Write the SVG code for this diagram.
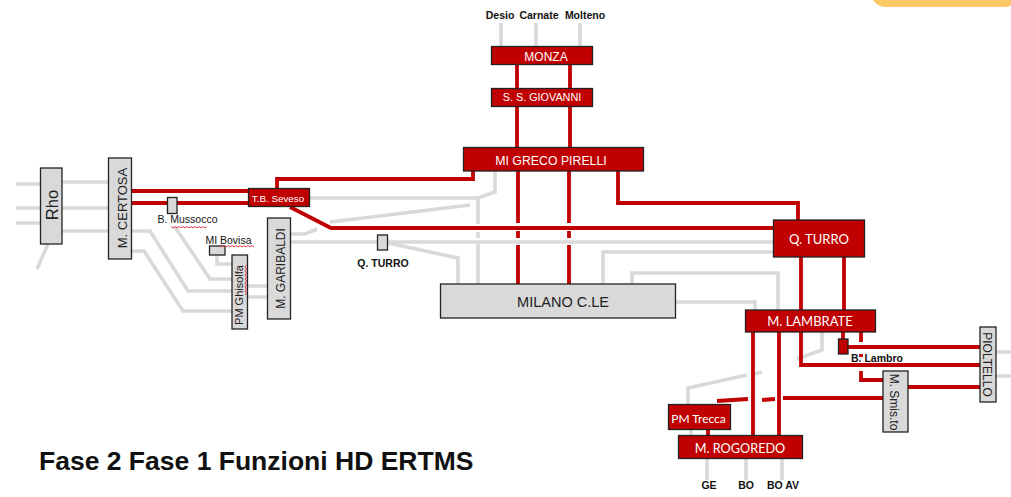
<svg xmlns="http://www.w3.org/2000/svg" width="1011" height="497" viewBox="0 0 1011 497">
<style>
text{font-family:"Liberation Sans",Arial,sans-serif;text-anchor:middle}
.g{fill:#d9d9d9;stroke:#222;stroke-width:1.3}
.r{fill:#c00000;stroke:#222;stroke-width:1.3}
.w{fill:#fff}
.c{fill:#fff;font-family:"Lato","Liberation Sans",sans-serif}
.k{fill:#222}
.b{fill:#111;font-weight:bold;font-size:10.5px}
.l{fill:#111;font-size:10.5px}
#connectors path{fill:none;stroke-linejoin:miter}
#grey path{stroke:#d9d9d9;stroke-width:3.6}
#red path{stroke:#c00000;stroke-width:3.8}
.sq{fill:none;stroke:#e0404a;stroke-width:1}
</style>
<path d="M873 0Q878 7 885 7H1005Q1011 7 1011 4V0Z" fill="#fdc966"/>
<g id="connectors">
<g id="grey">
<path d="M16 184H40M62 182H108M16 208H108M16 223H40M62 231H108M132 231H150L188 291H232M132 251H144L183 311H232M175 227L210 279H232M248 286H267M248 297H267M217 255V264H232M48 244L37 269"/>
<path d="M291 234H305L317 229M330 222L470 205M291 242H773M603 284V252H773M632 284V273H778V310M676 302H755V310M310 198H478L495 192V171M478 198V224M478 232V238M478 244V284M388 243L458 258V284"/>
<path d="M822 332V350L797 359M762 372L751 375M747 375L688 388V404M691 429V435M996 352H1011M996 376H1011M707 458V480M746 458V480M782 458V480M501 23V46M536 23V46M580 23V46"/>
</g>
<g id="red">
<path d="M132 191H248M132 203H248M277 188V179H473V171M290 207L331 228H773"/>
<path d="M517 64V88M570 64V88M517 107V147M570 107V147M518 171V223M518 231V238M518 245V284M569 171V223M569 231V238M569 245V284M618 171V203H798V220M801 257V310M844 257V310"/>
<path d="M843 332V340M801 332V365H980M848 347H980M861 332V342M861 354V357M861 371V380H883M908 387H980M883 398H783M775 399L762 400M748 399L717 401M753 332V435M779 332V435M708 429V435"/>
</g>
</g>
<g id="monza"><rect class="r" x="491.500" y="46.500" width="101" height="18"/><text class="w" x="546" y="61" font-size="12">MONZA</text></g>
<g id="giovanni"><rect class="r" x="491.500" y="88.500" width="101" height="18"/><text class="w" x="542" y="101" font-size="10.800">S. S. GIOVANNI</text></g>
<g id="greco"><rect class="r" x="463.500" y="147.500" width="180" height="23.500"/><text class="w" x="551" y="165" font-size="12.300">MI GRECO PIRELLI</text></g>
<g id="seveso"><rect class="r" x="248.500" y="188.500" width="61" height="18"/><text class="w" x="278" y="201.500" font-size="9.800">T.B. Seveso</text></g>
<g id="rho"><rect class="g" x="40.500" y="168" width="21.500" height="76"/><text class="k" transform="translate(58 205) rotate(-90)" font-size="16.500">Rho</text></g>
<g id="certosa"><rect class="g" x="108.500" y="158" width="23" height="101"/><text class="k" transform="translate(127 208) rotate(-90)" font-size="13">M. CERTOSA</text></g>
<g id="mussocco"><rect class="g" x="167.500" y="197.500" width="9.500" height="16"/><text class="l" x="187.500" y="223">B. Mussocco</text><path class="sq" d="M171 226.500l2 1.500 2-1.500 2 1.500 2-1.500 2 1.500 2-1.500 2 1.500 2-1.500 2 1.500 2-1.500 2 1.500 2-1.500 2 1.500 2-1.500 2 1.500 2-1.500 2 1.500 2-1.500"/></g>
<g id="bovisa"><rect class="g" x="209.500" y="246" width="15.500" height="9"/><text class="l" x="228.500" y="243.500">MI Bovisa</text><path class="sq" d="M220 245.500l2 1.500 2-1.500 2 1.500 2-1.500 2 1.500 2-1.500 2 1.500 2-1.500 2 1.500 2-1.500 2 1.500 2-1.500 2 1.500 2-1.500 2 1.500 2-1.500 2 1.500"/></g>
<g id="ghisolfa"><rect class="g" x="232" y="255" width="15.500" height="74"/><text class="k" transform="translate(242.500 295) rotate(-90)" font-size="11">PM Ghisolfa</text><path class="sq" d="M246.500 265l-1.500 2 1.500 2-1.500 2 1.500 2-1.500 2 1.500 2-1.500 2 1.500 2-1.500 2 1.500 2-1.500 2 1.500 2-1.500 2 1.500 2-1.500 2"/></g>
<g id="garibaldi"><rect class="g" x="267.500" y="218" width="23" height="101"/><text class="k" transform="translate(285 268.500) rotate(-90)" font-size="12">M. GARIBALDI</text></g>
<g id="turro-small"><rect class="g" x="377.500" y="235" width="10" height="15"/><text class="b" x="383" y="267">Q. TURRO</text></g>
<g id="milano"><rect class="g" x="440.500" y="284" width="235" height="34"/><text class="k" x="563" y="307" font-size="14.500">MILANO C.LE</text></g>
<g id="turro"><rect class="r" x="773.500" y="220" width="91" height="37"/><text class="c" x="819" y="244" font-size="13">Q. TURRO</text></g>
<g id="lambrate"><rect class="r" x="745.500" y="310" width="130" height="22"/><text class="c" x="810" y="326" font-size="13">M. LAMBRATE</text></g>
<g id="blambro"><rect class="r" x="838.500" y="339" width="9.500" height="15"/><text class="b" x="877" y="362">B. Lambro</text></g>
<g id="pioltello"><rect class="g" x="980" y="327" width="16" height="75"/><text class="k" transform="translate(983 364.500) rotate(90)" font-size="12">PIOLTELLO</text></g>
<g id="smistamento"><rect class="g" x="883" y="371" width="25" height="61"/><text class="k" transform="translate(890 402) rotate(90)" font-size="12">M. Smis.to</text></g>
<g id="trecca"><rect class="r" x="668.500" y="404.500" width="62" height="25"/><text class="c" x="698.500" y="423" font-size="12">PM Trecca</text></g>
<g id="rogoredo"><rect class="r" x="678.500" y="435.500" width="124" height="23"/><text class="c" x="740" y="453" font-size="12.700">M. ROGOREDO</text></g>
<g id="labels">
<text class="b" x="500" y="19">Desio</text><text class="b" x="539" y="19">Carnate</text><text class="b" x="585" y="19">Molteno</text>
<text class="b" x="709" y="489">GE</text><text class="b" x="746" y="489">BO</text><text class="b" x="783" y="489">BO AV</text>
<text x="39" y="470" font-size="26.500" font-weight="bold" fill="#111" style="text-anchor:start">Fase 2 Fase 1 Funzioni HD ERTMS</text>
</g>
</svg>
